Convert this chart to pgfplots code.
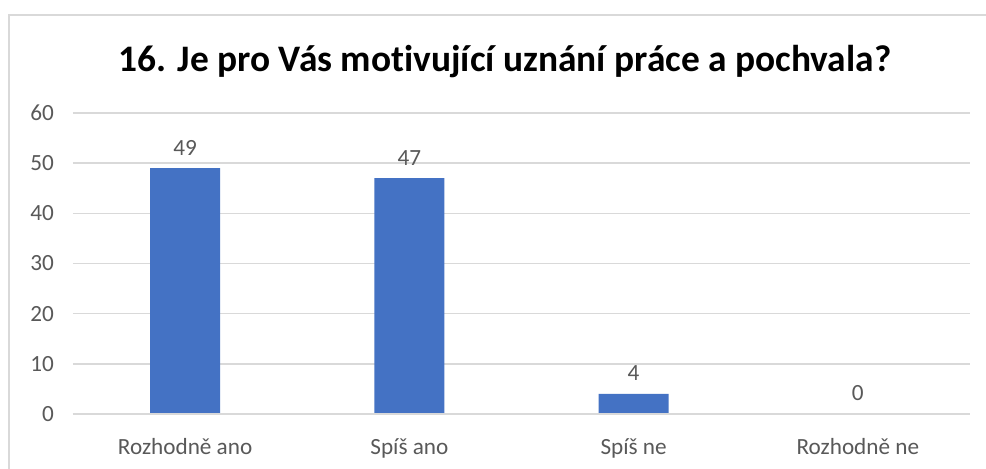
\documentclass[border=0pt]{standalone}
\usepackage{pgfplots}
\pgfplotsset{compat=1.18}
\usepackage{fontspec}
\setmainfont[Ligatures=NoCommon]{Carlito}
\definecolor{barblue}{HTML}{4472C4}
\definecolor{txtgray}{HTML}{595959}
\definecolor{gridgray}{HTML}{D9D9D9}
\begin{document}
\begin{tikzpicture}
\useasboundingbox (-36.5pt,-27pt) rectangle (456.5pt,207pt);
\fill[white] (-36.5pt,-27pt) rectangle (456.5pt,207pt);
\draw[gridgray,line width=0.8pt] (-32pt,-30pt) -- (-32pt,199.5pt) -- (460pt,199.5pt);
\node[font=\fontsize{18.7}{22}\selectfont\bfseries,text=black] at (216pt,176pt)
  {16. Je pro Vás motivující uznání práce a pochvala?};
\begin{axis}[
  at={(0,0)},anchor=south west,
  scale only axis,width=448.5pt,height=150.5pt,
  xmin=-0.5,xmax=3.5,ymin=0,ymax=60,
  ytick={0,10,...,60},
  xtick={0,1,2,3},
  xticklabels={Rozhodně ano,Spíš ano,Spíš ne,Rozhodně ne},
  axis line style={draw=none},
  axis x line*=bottom,
  tick style={draw=none},
  ymajorgrids,
  major grid style={gridgray,line width=0.8pt},
  tick label style={font=\fontsize{11.6}{13}\selectfont,text=txtgray},
  /pgf/number format/assume math mode=true,
  yticklabel style={xshift=-6pt},
  xticklabel style={yshift=-4.5pt},
  ybar,bar width=35pt,
  nodes near coords,
  every node near coord/.append style={font=\fontsize{11.6}{13}\selectfont,text=txtgray,yshift=3pt},
  clip=false,
]
\addplot[fill=barblue,draw=none] coordinates {(0,49) (1,47) (2,4) (3,0)};
\draw[gridgray,line width=0.8pt] (axis cs:-0.5,0) -- (axis cs:3.5,0);
\end{axis}
\end{tikzpicture}
\end{document}
